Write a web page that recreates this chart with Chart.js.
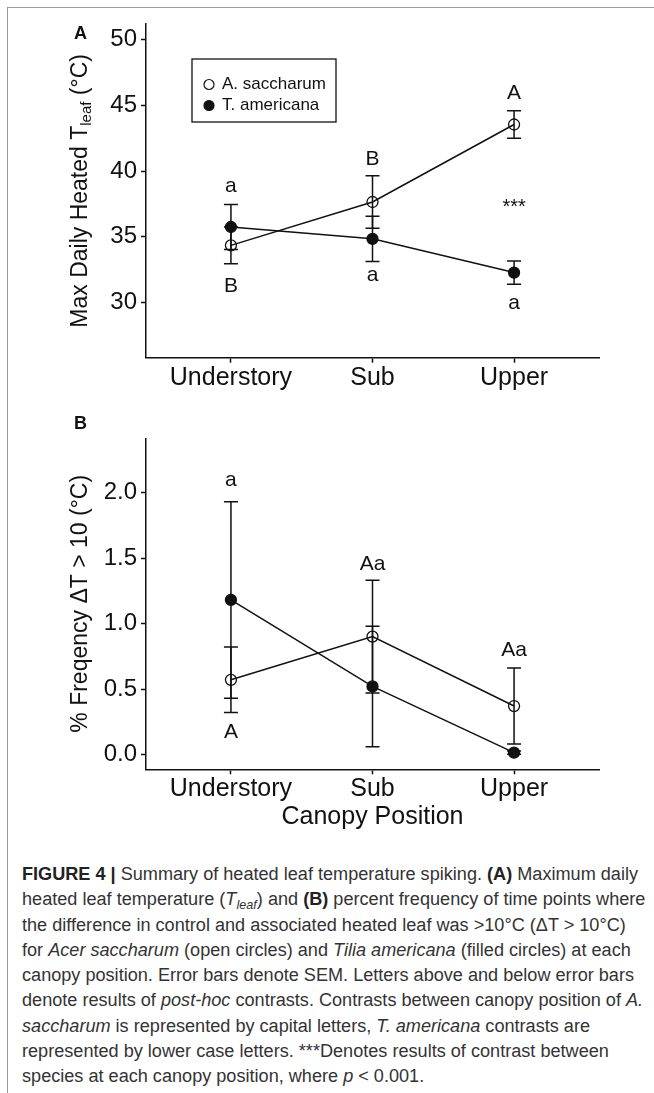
<!DOCTYPE html>
<html>
<head>
<meta charset="utf-8">
<script src="https://cdn.jsdelivr.net/npm/chart.js@4/dist/chart.umd.min.js"></script>
<style>
  html, body { margin: 0; padding: 0; background: #fff; }
  body { width: 654px; height: 1093px; position: relative; overflow: hidden; font-family: 'Liberation Sans', Arial, sans-serif; }
  #frame { position: absolute; left: 7px; top: 7px; width: 660px; height: 1100px; border-left: 1.5px solid #9a9a9a; border-top: 1.5px solid #9a9a9a; }
  canvas { position: absolute; left: 0; }
  #chart-a { top: 0; }
  #chart-b { top: 400px; }
  #caption { position: absolute; left: 22px; top: 862px; font-size: 18px; line-height: 25.3px; color: #333; white-space: nowrap; transform-origin: 0 0; }
  #caption b { color: #222; }
  #caption sub { font-size: 70%; line-height: 0; vertical-align: -0.3em; }
</style>
</head>
<body>
<div id="frame"></div>
<canvas id="chart-a" width="654" height="400"></canvas>
<canvas id="chart-b" width="654" height="440"></canvas>
<div id="caption">
  <div class="ln"><b>FIGURE 4 |</b> Summary of heated leaf temperature spiking. <b>(A)</b> Maximum daily</div>
  <div class="ln">heated leaf temperature (<i>T<sub>leaf</sub></i>) and <b>(B)</b> percent frequency of time points where</div>
  <div class="ln">the difference in control and associated heated leaf was &gt;10°C (ΔT &gt; 10°C)</div>
  <div class="ln">for <i>Acer saccharum</i> (open circles) and <i>Tilia americana</i> (filled circles) at each</div>
  <div class="ln">canopy position. Error bars denote SEM. Letters above and below error bars</div>
  <div class="ln">denote results of <i>post-hoc</i> contrasts. Contrasts between canopy position of <i>A.</i></div>
  <div class="ln"><i>saccharum</i> is represented by capital letters, <i>T. americana</i> contrasts are</div>
  <div class="ln">represented by lower case letters. ***Denotes results of contrast between</div>
  <div class="ln">species at each canopy position, where <i>p</i> &lt; 0.001.</div>
</div>
<script>
// ── Data ────────────────────────────────────────────────────────
const categories = ['Understory', 'Sub', 'Upper'];
const speciesNames = ['A. saccharum', 'T. americana'];

// Panel A: max daily heated Tleaf (°C), mean and SEM
const tempSaccharum = [34.35, 37.65, 43.55];
const tempSaccharumSem = [1.40, 2.00, 1.05];
const tempAmericana = [35.75, 34.85, 32.28];
const tempAmericanaSem = [1.72, 1.72, 0.88];
const tempTicks = [30, 35, 40, 45, 50];
// contrast letters: [category position, y value, text]
const tempLetters = [
  [1, 38.84, 'a'], [1, 31.27, 'B'],
  [2, 40.94, 'B'], [2, 32.09, 'a'],
  [3, 45.96, 'A'], [3, 37.25, '***'], [3, 29.96, 'a'],
];

// Panel B: % frequency of dT > 10 °C, mean and SEM
const freqSaccharum = [0.57, 0.90, 0.37];
const freqSaccharumSem = [0.25, 0.43, 0.29];
const freqAmericana = [1.18, 0.52, 0.014];
const freqAmericanaSem = [0.75, 0.46, 0.012];
const freqTicks = [0.0, 0.5, 1.0, 1.5, 2.0];
const freqLetters = [
  [1, 2.096, 'a'], [1, 0.174, 'A'],
  [2, 1.454, 'Aa'],
  [3, 0.798, 'Aa'],
];

const FONT = "'Liberation Sans', Arial, sans-serif";
const INK = '#111';

// ── Extra drawing: error bars, letters, y title, legend ─────────
const panelExtras = {
  id: 'panelExtras',
  beforeDatasetsDraw(chart) {
    const { ctx, scales: { x, y } } = chart;
    ctx.save();
    ctx.strokeStyle = INK;
    ctx.lineWidth = 1.5;
    chart.data.datasets.forEach(ds => {
      ds.data.forEach((p, i) => {
        const px = x.getPixelForValue(p.x);
        const top = y.getPixelForValue(p.y + ds.sem[i]);
        const bot = y.getPixelForValue(p.y - ds.sem[i]);
        ctx.beginPath();
        ctx.moveTo(px, top); ctx.lineTo(px, bot);
        ctx.moveTo(px - 7, top); ctx.lineTo(px + 7, top);
        ctx.moveTo(px - 7, bot); ctx.lineTo(px + 7, bot);
        ctx.stroke();
      });
    });
    ctx.restore();
  },
  afterDraw(chart) {
    const opts = chart.options.plugins.panelExtras;
    const { ctx, chartArea, scales: { x, y } } = chart;
    ctx.save();
    ctx.fillStyle = INK;
    ctx.textBaseline = 'middle';
    ctx.textAlign = 'center';

    // contrast letters
    opts.letters.forEach(([cx, cy, t]) => {
      ctx.font = (t === '***' ? '20px ' : '21px ') + FONT;
      ctx.fillText(t, x.getPixelForValue(cx), y.getPixelForValue(cy));
    });

    // panel tag
    ctx.textAlign = 'left';
    ctx.font = 'bold 18px ' + FONT;
    ctx.fillText(opts.tag, 74, opts.tagY);

    // rotated y title with optional subscript
    const parts = opts.yTitle;
    ctx.translate(81, (chartArea.top + chartArea.bottom) / 2);
    ctx.rotate(-Math.PI / 2);
    let total = 0;
    parts.forEach(p => { ctx.font = p.size + 'px ' + FONT; total += ctx.measureText(p.t).width; });
    let cur = -total / 2;
    parts.forEach(p => {
      ctx.font = p.size + 'px ' + FONT;
      ctx.fillText(p.t, cur, p.dy || 0);
      cur += ctx.measureText(p.t).width;
    });
    ctx.restore();

    // legend box
    if (opts.legend) {
      ctx.save();
      ctx.strokeStyle = INK;
      ctx.lineWidth = 1.3;
      ctx.strokeRect(192, 59, 144, 63);
      ctx.font = '17px ' + FONT;
      ctx.textBaseline = 'middle';
      ctx.fillStyle = INK;
      const rows = [84.5, 105.5];
      chart.data.datasets.forEach((ds, i) => {
        ctx.beginPath();
        ctx.arc(209, rows[i], 5, 0, Math.PI * 2);
        if (ds.pointBackgroundColor === INK) ctx.fill();
        ctx.lineWidth = 1.2;
        ctx.stroke();
        ctx.fillText(ds.label, 222, rows[i]);
      });
      ctx.restore();
    }
  }
};

function toPoints(values) {
  return values.map((v, i) => ({ x: i + 1, y: v }));
}

function makeDataset(label, values, sem, filled) {
  return {
    label,
    data: toPoints(values),
    sem,
    borderColor: INK,
    borderWidth: 1.5,
    pointRadius: 5.5,
    pointHoverRadius: 5.5,
    pointBorderWidth: 1.3,
    pointBorderColor: INK,
    pointBackgroundColor: filled ? INK : 'rgba(0,0,0,0)',
    tension: 0,
    clip: false,
  };
}

function makeChart(canvasId, cfg) {
  return new Chart(document.getElementById(canvasId), {
    type: 'line',
    data: {
      datasets: [
        makeDataset(speciesNames[0], cfg.sacch, cfg.sacchSem, false),
        makeDataset(speciesNames[1], cfg.amer, cfg.amerSem, true),
      ],
    },
    plugins: [panelExtras],
    options: {
      responsive: false,
      animation: false,
      devicePixelRatio: 1,
      layout: { padding: { top: cfg.padTop, right: 55, left: 0, bottom: 0 } },
      plugins: {
        legend: { display: false },
        tooltip: { enabled: false },
        panelExtras: { letters: cfg.letters, tag: cfg.tag, tagY: cfg.tagY, yTitle: cfg.yTitle, legend: cfg.legend },
      },
      scales: {
        x: {
          type: 'linear',
          min: 0.4,
          max: 3.6,
          afterBuildTicks: (s) => { s.ticks = categories.map((_, i) => ({ value: i + 1 })); },
          afterFit: (s) => { s.height = cfg.xHeight; },
          ticks: {
            callback: (v) => categories[v - 1],
            color: INK,
            font: { family: FONT, size: 25 },
            padding: 0,
            maxRotation: 0,
            autoSkip: false,
          },
          grid: { drawOnChartArea: false, drawTicks: true, tickLength: 5, color: INK, tickWidth: 1.5 },
          border: { display: true, color: INK, width: 1.5 },
          title: cfg.xTitle
            ? { display: true, text: cfg.xTitle, color: INK, font: { family: FONT, size: 25 }, padding: { top: 0, bottom: 8 } }
            : { display: false },
        },
        y: {
          min: cfg.yMin,
          max: cfg.yMax,
          afterBuildTicks: (s) => { s.ticks = cfg.ticks.map(v => ({ value: v })); },
          afterFit: (s) => { s.width = 146; },
          ticks: {
            callback: cfg.tickFmt,
            color: INK,
            font: { family: FONT, size: 24 },
            padding: 4,
          },
          grid: { drawOnChartArea: false, drawTicks: true, tickLength: 5, color: INK, tickWidth: 1.5 },
          border: { display: true, color: INK, width: 1.5 },
        },
      },
    },
  });
}

makeChart('chart-a', {
  sacch: tempSaccharum, sacchSem: tempSaccharumSem,
  amer: tempAmericana, amerSem: tempAmericanaSem,
  letters: tempLetters, ticks: tempTicks, tickFmt: (v) => String(v),
  yMin: 25.8, yMax: 51.2, padTop: 24, xHeight: 42.3,
  tag: 'A', tagY: 34, legend: true,
  yTitle: [
    { t: 'Max Daily Heated T', size: 23 },
    { t: 'leaf', size: 15, dy: 6 },
    { t: ' (°C)', size: 23 },
  ],
});

makeChart('chart-b', {
  sacch: freqSaccharum, sacchSem: freqSaccharumSem,
  amer: freqAmericana, amerSem: freqAmericanaSem,
  letters: freqLetters, ticks: freqTicks, tickFmt: (v) => v.toFixed(1),
  yMin: -0.113, yMax: 2.414, padTop: 38.3, xHeight: 70.7,
  tag: 'B', tagY: 24, legend: false,
  xTitle: 'Canopy Position',
  yTitle: [{ t: '% Freqency ΔT > 10 (°C)', size: 23 }],
});

// squeeze the caption to the narrow width of the journal face
(function fitCaption() {
  const cap = document.getElementById('caption');
  const first = cap.querySelector('.ln');
  const range = document.createRange();
  range.selectNodeContents(first);
  const w = range.getBoundingClientRect().width;
  cap.style.transform = `scaleX(${616 / w})`;
})();
</script>
</body>
</html>
